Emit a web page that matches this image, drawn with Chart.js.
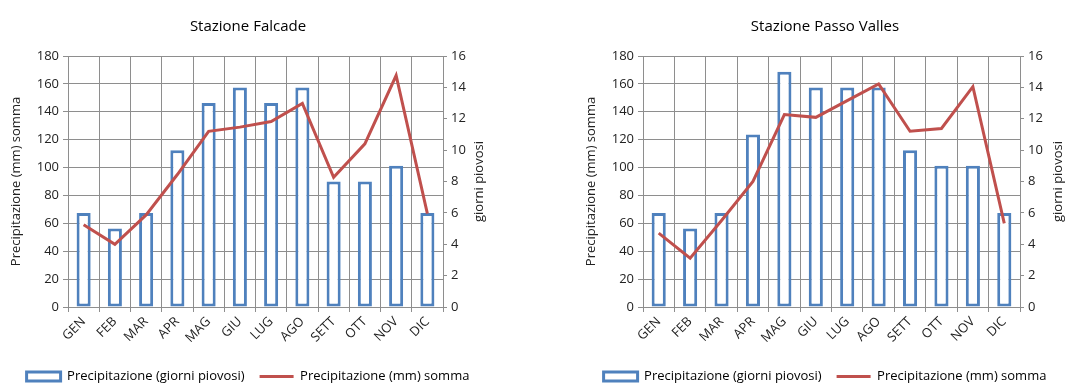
<!DOCTYPE html>
<html lang="it">
<head>
    <meta charset="utf-8" />
    <title>Precipitazioni - Falcade e Passo Valles</title>
    <script src="https://cdn.jsdelivr.net/npm/chart.js@4"></script>
    <style>
        body { margin: 0; background: #fff; }
        .box { position: absolute; top: 0; width: 536px; height: 385px; }
    </style>
</head>
<body>
    <div class="box" style="left:0"><canvas id="falcade"></canvas></div>
    <div class="box" style="left:536px"><canvas id="valles"></canvas></div>

    <script>
        const mesi = ['GEN', 'FEB', 'MAR', 'APR', 'MAG', 'GIU', 'LUG', 'AGO', 'SETT', 'OTT', 'NOV', 'DIC'];

        // Stazione Falcade
        const falcadeGiorni = [6, 5, 6, 10, 13, 14, 13, 14, 8, 8, 9, 6];
        const falcadeMm = [59, 45, 66, 95, 126, 129, 133, 146, 93, 117, 166, 67];

        // Stazione Passo Valles
        const vallesGiorni = [6, 5, 6, 11, 15, 14, 14, 14, 10, 9, 9, 6];
        const vallesMm = [53, 35, 62, 90, 138, 136, 148, 160, 126, 128, 158, 60];

        const mmTicks = { min: 0, max: 180, step: 20 };
        const giorniTicks = { min: 0, max: 16, step: 2 };

        const FONT = '"Open Sans", sans-serif';
        const GRID = '#8e8e8e';
        const TXT = '#222';

        Chart.defaults.font.family = FONT;
        Chart.defaults.color = TXT;

        // the right axis title in the original reads bottom-to-top, chart.js rotates it the other way
        const giorniTitle = {
            id: 'giorniTitle',
            afterDraw(chart) {
                const s = chart.scales.y1;
                const area = chart.chartArea;
                const c = chart.ctx;
                c.save();
                c.translate(s.right - 9, (area.top + area.bottom) / 2);
                c.rotate(-Math.PI / 2);
                c.textAlign = 'center';
                c.textBaseline = 'middle';
                c.font = '13px ' + FONT;
                c.fillStyle = TXT;
                c.fillText('giorni piovosi', 0, 0);
                c.restore();
            }
        };

        function makeChart(id, titolo, giorni, mm, pad, leftW, rightW) {
            const ctx = document.getElementById(id).getContext('2d');
            return new Chart(ctx, {
                type: 'bar',
                data: {
                    labels: mesi,
                    datasets: [{
                        label: 'Precipitazione (giorni piovosi)',
                        data: giorni,
                        yAxisID: 'y1',
                        backgroundColor: '#ffffff',
                        borderColor: '#4F81BD',
                        borderWidth: 3,
                        borderSkipped: false,
                        barPercentage: 0.45,
                        categoryPercentage: 1,
                        pointStyle: 'rect',
                        order: 1
                    }, {
                        type: 'line',
                        label: 'Precipitazione (mm) somma',
                        data: mm,
                        yAxisID: 'y',
                        borderColor: '#C0504D',
                        backgroundColor: '#C0504D',
                        borderWidth: 3,
                        pointRadius: 0,
                        tension: 0,
                        pointStyle: 'line',
                        order: 0
                    }]
                },
                options: {
                    responsive: true,
                    maintainAspectRatio: false,
                    animation: false,
                    layout: { padding: pad },
                    plugins: {
                        title: {
                            display: true,
                            text: titolo,
                            color: '#000',
                            font: { size: 15, weight: 'normal' },
                            padding: { top: 18, bottom: 20 }
                        },
                        legend: {
                            position: 'bottom',
                            labels: {
                                usePointStyle: true,
                                pointStyleWidth: 34,
                                boxHeight: 9,
                                padding: 15,
                                color: '#000',
                                font: { size: 13 },
                                sort: (a, b) => a.datasetIndex - b.datasetIndex
                            }
                        },
                        tooltip: { enabled: false }
                    },
                    scales: {
                        x: {
                            grid: { offset: true, color: GRID, tickLength: 5 },
                            border: { color: GRID },
                            ticks: { minRotation: 45, maxRotation: 45, autoSkip: false, font: { size: 13 }, padding: 2 },
                            afterFit: s => { s.height = 48; }
                        },
                        y: {
                            position: 'left',
                            min: mmTicks.min,
                            max: mmTicks.max,
                            ticks: { stepSize: mmTicks.step, font: { size: 13 }, padding: 4 },
                            grid: { color: GRID, tickLength: 5 },
                            border: { color: GRID },
                            title: { display: true, text: 'Precipitazione (mm) somma', font: { size: 13 }, padding: 0 },
                            afterFit: s => { s.width = leftW; }
                        },
                        y1: {
                            position: 'right',
                            min: giorniTicks.min,
                            max: giorniTicks.max,
                            ticks: { stepSize: giorniTicks.step, font: { size: 13 }, padding: 4 },
                            grid: { drawOnChartArea: false, color: GRID, tickLength: 4 },
                            border: { color: GRID },
                            afterFit: s => { s.width = rightW; }
                        }
                    }
                },
                plugins: [giorniTitle]
            });
        }

        makeChart('falcade', 'Stazione Falcade', falcadeGiorni, falcadeMm,
            { left: 8, right: 48, bottom: -8 }, 60, 45);
        makeChart('valles', 'Stazione Passo Valles', vallesGiorni, vallesMm,
            { left: 47, right: 5, bottom: -8 }, 60, 47);
    </script>
</body>
</html>
